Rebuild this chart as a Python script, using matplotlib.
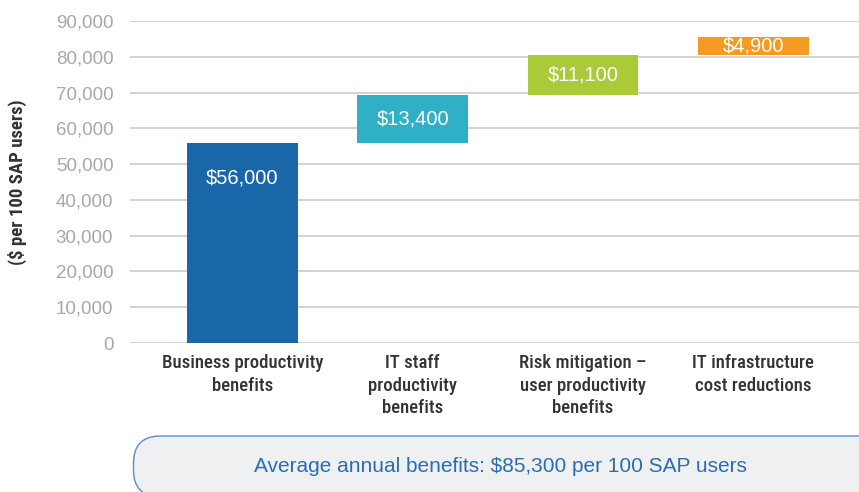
import matplotlib
matplotlib.use("Agg")
import matplotlib.pyplot as plt
from matplotlib.patches import FancyBboxPatch
from matplotlib.transforms import IdentityTransform
from matplotlib import font_manager

categories = ["Business productivity\nbenefits", "IT staff\nproductivity\nbenefits",
              "Risk mitigation –\nuser productivity\nbenefits", "IT infrastructure\ncost reductions"]
values = [56000, 13400, 11100, 4900]
labels = ["$56,000", "$13,400", "$11,100", "$4,900"]
colors = ["#1967a9", "#2fb0c6", "#abca3a", "#f59b21"]
yticks = list(range(0, 90001, 10000))
total_text = "Average annual benefits: $85,300 per 100 SAP users"

names = {f.name for f in font_manager.fontManager.ttflist}
narrow = "DejaVu Sans"
for cand in ["Roboto Condensed", "Archivo Narrow", "PT Sans Narrow", "Liberation Sans Narrow",
             "Sofia Sans Condensed", "Open Sans Condensed", "Asap Condensed"]:
    if cand in names:
        narrow = cand
        break
plt.rcParams['font.family'] = ['Liberation Sans', 'DejaVu Sans']

fig = plt.figure(figsize=(8.59, 4.92), dpi=100)
ax = fig.add_axes([130/859, (492-343)/492, 1-130/859, (343-21)/492])

bottoms = []
acc = 0
for v in values:
    bottoms.append(acc)
    acc += v
x = list(range(len(values)))
ax.bar(x, values, bottom=bottoms, width=0.65, color=colors, zorder=3)

for i, (b, v, lab) in enumerate(zip(bottoms, values, labels)):
    ytxt = b + v - 9800 if v > 30000 else b + v / 2
    ax.text(i, ytxt, lab, ha="center", va="center", color="white", fontsize=14.5, zorder=4)

ax.set_ylim(0, 90000)
ax.set_xlim(-0.66, 3.62)
ax.set_yticks(yticks)
ax.set_yticklabels([f"{t:,}" for t in yticks], color="#a8a8a8", fontsize=13.5)
ax.yaxis.grid(True, color="#cccccc", linewidth=1.2, zorder=0)
ax.tick_params(axis="y", length=0, pad=12)
ax.tick_params(axis="x", length=0, pad=8)
ax.set_xticks(x)
ax.set_xticklabels(categories, fontsize=13.5, color="#333333", fontweight="medium",
                   family=[narrow, "DejaVu Sans"], linespacing=1.32, va="top")
for s in ax.spines.values():
    s.set_visible(False)
ax.set_ylabel("($ per 100 SAP users)", fontsize=13.5, fontweight="bold", color="#333333",
              family=[narrow, "DejaVu Sans"])
ax.yaxis.set_label_coords(-103/729, 0.5)

box = FancyBboxPatch((133.5, -5), 780, 61,
                     boxstyle="round,pad=0,rounding_size=27", transform=IdentityTransform(),
                     facecolor="#eff0f1", edgecolor="#5a8cc6", linewidth=1.0)
fig.patches.append(box)
fig.text(500/859, (492-466)/492, total_text, ha="center", va="center", color="#2a6db3", fontsize=15)

fig.savefig("out.png", dpi=100)
